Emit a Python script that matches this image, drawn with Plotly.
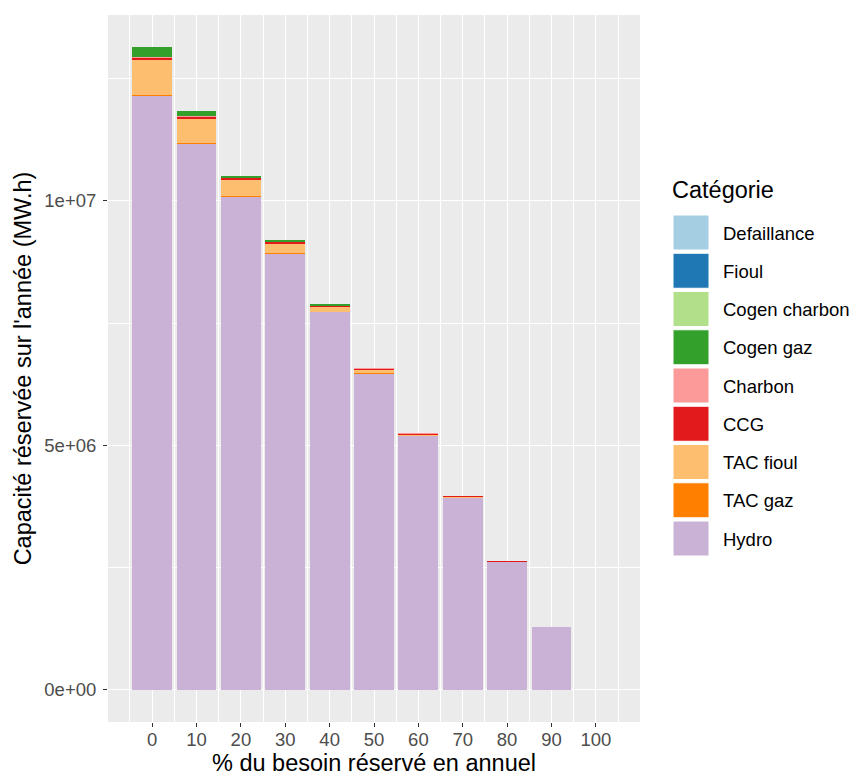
import plotly.graph_objects as go

besoin = [0, 10, 20, 30, 40, 50, 60, 70, 80, 90, 100]

# values in MW.h
hydro = [12.15e6, 11.17e6, 10.09e6, 8.92e6, 7.73e6, 6.48e6, 5.21e6, 3.94e6, 2.62e6, 1.29e6, 0]
tac_gaz = [0.02e6, 0.015e6, 0.01e6, 0.01e6, 0.005e6, 0.003e6, 0.002e6, 0, 0, 0, 0]
tac_fioul = [0.71e6, 0.50e6, 0.33e6, 0.20e6, 0.10e6, 0.07e6, 0.012e6, 0.008e6, 0.005e6, 0, 0]
ccg = [0.055e6, 0.035e6, 0.04e6, 0.03e6, 0.03e6, 0.02e6, 0.02e6, 0.003e6, 0.002e6, 0, 0]
charbon = [0.01e6, 0.01e6, 0.005e6, 0.005e6, 0.005e6, 0.003e6, 0.002e6, 0, 0, 0, 0]
cogen_gaz = [0.2e6, 0.1e6, 0.035e6, 0.035e6, 0.01e6, 0, 0, 0, 0, 0, 0]
cogen_charbon = [0] * 11
fioul = [0] * 11
defaillance = [0] * 11

categories = ["Defaillance", "Fioul", "Cogen charbon", "Cogen gaz", "Charbon",
              "CCG", "TAC fioul", "TAC gaz", "Hydro"]
colors = ["#A6CEE3", "#1F78B4", "#B2DF8A", "#33A02C", "#FB9A99",
          "#E31A1C", "#FDBF6F", "#FF7F00", "#CAB2D6"]
series = [defaillance, fioul, cogen_charbon, cogen_gaz, charbon,
          ccg, tac_fioul, tac_gaz, hydro]

ytick_vals = [0, 5e6, 1e7]
ytick_text = ["0e+00", "5e+06", "1e+07"]

font = "Liberation Sans, Arial, sans-serif"

fig = go.Figure()
# stack from the bottom: Hydro first
for name, col, vals in reversed(list(zip(categories, colors, series))):
    fig.add_trace(go.Bar(x=besoin, y=vals, name=name, width=9,
                         marker=dict(color=col, line=dict(width=0)),
                         showlegend=False))

total = max(sum(v) for v in zip(*series))
pad = total * 0.05

# page has an 8px body margin, so the figure is a bit smaller
fig.update_layout(
    width=850, height=769,
    barmode="stack",
    paper_bgcolor="white",
    plot_bgcolor="#EBEBEB",
    margin=dict(l=100, r=218, t=7, b=55),
    font=dict(family=font, color="black"),
    xaxis=dict(range=[-9.95, 109.95], tickvals=besoin, automargin=False,
               ticks="outside", ticklen=4, tickcolor="#333333",
               tickfont=dict(size=18.5, color="#4D4D4D"),
               ticklabelstandoff=-3,
               showgrid=True, gridcolor="white", gridwidth=1.4,
               minor=dict(dtick=5, tick0=5, showgrid=True,
                          gridcolor="white", gridwidth=0.7),
               zeroline=False,
               title=dict(text="% du besoin réservé en annuel",
                          font=dict(size=23.5), standoff=4)),
    yaxis=dict(range=[-pad, total + pad], tickvals=ytick_vals, ticktext=ytick_text,
               automargin=False,
               ticks="outside", ticklen=4, tickcolor="#333333",
               tickfont=dict(size=18.5, color="#4D4D4D"),
               ticklabelstandoff=3,
               showgrid=True, gridcolor="white", gridwidth=1.4,
               minor=dict(dtick=2.5e6, tick0=0, showgrid=True,
                          gridcolor="white", gridwidth=0.7),
               zeroline=False,
               title=dict(text="Capacité réservée sur l'année (MW.h)",
                          font=dict(size=23.5), standoff=6)),
)

# legend drawn ggplot-style with large keys (positions in page pixels)
W, H = 532, 707
def px(x):
    return (x - 108) / W
def py(y):
    return (722 - y) / H

fig.add_annotation(x=px(670), y=py(190), xref="paper", yref="paper",
                   text="Catégorie", showarrow=False, xanchor="left",
                   yanchor="middle", font=dict(size=23.5, color="black"))
for i, (name, col) in enumerate(zip(categories, colors)):
    top = 215 + 38.25 * i
    fig.add_shape(type="rect", xref="paper", yref="paper",
                  x0=px(673), x1=px(709), y0=py(top + 35), y1=py(top),
                  fillcolor=col, line=dict(color="white", width=1))
    fig.add_annotation(x=px(721), y=py(top + 18), xref="paper", yref="paper",
                       text=name, showarrow=False, xanchor="left",
                       yanchor="middle", font=dict(size=18.5, color="black"))

fig.write_html("out.html")
